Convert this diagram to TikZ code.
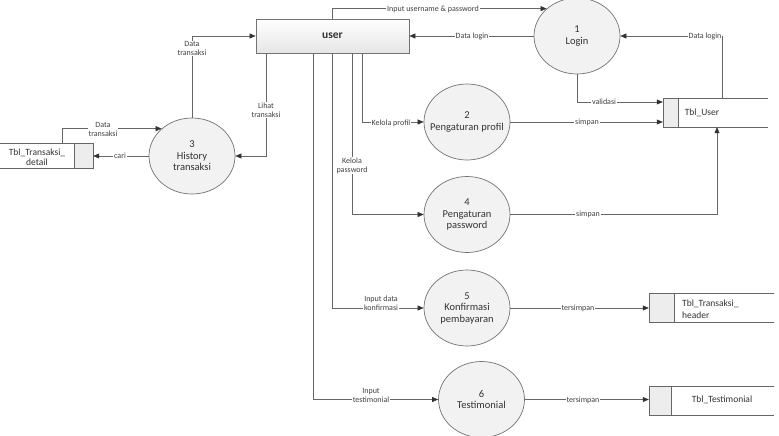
\documentclass[tikz,border=0pt]{standalone}
\usepackage{fontspec}
\setmainfont{Carlito}
\usetikzlibrary{arrows.meta,shapes.geometric,calc}
\begin{document}
\begin{tikzpicture}[x=1pt,y=-1pt,
  proc/.style={ellipse, draw=black!55, fill=black!5, line width=0.7pt, minimum width=86pt, minimum height=76pt, inner sep=0pt},
  ptext/.style={align=center, font=\fontsize{10.5}{11.5}\selectfont, text=black!80},
  flow/.style={draw=black!60, line width=0.6pt, -{Triangle[length=6pt,width=5pt,color=black!80]}},
  lbl/.style={fill=white, inner sep=0.8pt, font=\fontsize{8}{9}\selectfont, align=center, text=black!75},
  store/.style={inner sep=0pt, fill=white},
  sline/.style={draw=black!60, line width=0.6pt},
  stext/.style={font=\fontsize{9.5}{12}\selectfont, text=black!80, inner sep=0pt},
  compart/.style={fill=black!7},
]
\useasboundingbox (0,0) rectangle (779,436);

% external entity
\node[draw=black!55, line width=0.7pt, top color=white, bottom color=black!10, minimum width=153pt, minimum height=34pt, inner sep=0pt, font=\fontsize{11.5}{12}\selectfont\bfseries, text=black!80] (user) at (332.5,36) {user};

% processes
\node[proc, label={[ptext]center:1\\Login}] (p1) at (577,36) {};
\node[proc, label={[ptext]center:2\\Pengaturan profil}] (p2) at (467,122) {};
\node[proc, label={[ptext]center:3\\History\\transaksi}] (p3) at (192,156) {};
\node[proc, label={[ptext]center:4\\Pengaturan\\password}] (p4) at (467,214.5) {};
\node[proc, label={[ptext]center:5\\Konfirmasi\\pembayaran}] (p5) at (467,308) {};
\node[proc, label={[ptext]center:6\\Testimonial}] (p6) at (481.5,399.5) {};

% data stores
\node[store, minimum width=105pt, minimum height=29pt] (tu) at (715.5,112.5) {};
\fill[compart] (tu.north west) rectangle ($(tu.south west)+(15,0)$);
\draw[sline] (tu.north east) -- (tu.north west) -- (tu.south west) -- (tu.south east);
\draw[sline] ($(tu.north west)+(15,0)$) -- ($(tu.south west)+(15,0)$);
\node[stext] (tut) at (702,112.5) {Tbl\_User};

\node[store, minimum width=125pt, minimum height=29pt] (th) at (711.5,307.5) {};
\fill[compart] (th.north west) rectangle ($(th.south west)+(25,0)$);
\draw[sline] (th.north east) -- (th.north west) -- (th.south west) -- (th.south east);
\draw[sline] ($(th.north west)+(25,0)$) -- ($(th.south west)+(25,0)$);
\node[stext, anchor=west, align=left] (tht) at (682,309.5) {Tbl\_Transaksi\_\\header};

\node[store, minimum width=125pt, minimum height=29pt] (tt) at (711.5,400.5) {};
\fill[compart] (tt.north west) rectangle ($(tt.south west)+(22,0)$);
\draw[sline] (tt.north east) -- (tt.north west) -- (tt.south west) -- (tt.south east);
\draw[sline] ($(tt.north west)+(22,0)$) -- ($(tt.south west)+(22,0)$);
\node[stext] (ttt) at (722,400) {Tbl\_Testimonial};

\node[store, minimum width=93pt, minimum height=25pt] (td) at (46.5,155.5) {};
\fill[compart] ($(td.north east)+(-19,0)$) rectangle (td.south east);
\draw[sline] (td.north west) -- (td.north east) -- (td.south east) -- (td.south west);
\draw[sline] ($(td.north east)+(-19,0)$) -- ($(td.south east)+(-19,0)$);
\node[stext, align=center, font=\fontsize{9.5}{10}\selectfont] (tdt) at (37,157.5) {Tbl\_Transaksi\_\\detail};

% flows
\draw[flow] (user.north) |- (p1.138);
\draw[flow] (p1.west) -- (user.east);
\draw[flow] ($(tu.north)+(6.5,0)$) |- (p1.east);
\draw[flow] (p1.south) |- ($(tu.west)+(0,-10.5)$);
\draw[flow] (p2.east) -- (p2.east -| tu.west);
\draw[flow] (p4.east) -| ($(tu.south)+(1.5,0)$);
\draw[flow] ($(user.south)+(29.5,0)$) |- (p2.west);
\draw[flow] ($(user.south)+(19.5,0)$) |- (p4.west);
\draw[flow] (user.south) |- (p5.west);
\draw[flow] ($(user.south)+(-19.5,0)$) |- (p6.west);
\draw[flow] (p5.east) -- (p5.east -| th.west);
\draw[flow] (p6.east) -- (p6.east -| tt.west);
\draw[flow] (p3.north) |- (user.west);
\draw[flow] ($(user.south)+(-66.5,0)$) |- (p3.east);
\draw[flow] (p3.west) -- (p3.west -| td.east);
\draw[flow] ($(td.north)+(15.5,0)$) |- (p3.138);

% labels
\node[lbl] (l1) at (433,9) {Input username \& password};
\node[lbl] (l2) at (472,36) {Data login};
\node[lbl] (l3) at (705,36) {Data login};
\node[lbl] (l4) at (604,102) {validasi};
\node[lbl] (l5) at (587,122) {simpan};
\node[lbl] (l6) at (588,214.5) {simpan};
\node[lbl] (l7) at (391,123.5) {Kelola profil};
\node[lbl] (l8) at (352,165.5) {Kelola\\password};
\node[lbl] (l9) at (381,303) {Input data\\konfirmasi};
\node[lbl] (l10) at (371,395) {Input\\testimonial};
\node[lbl] (l11) at (578,308) {tersimpan};
\node[lbl] (l12) at (583,400) {tersimpan};
\node[lbl] (l13) at (192,48.5) {Data\\transaksi};
\node[lbl] (l14) at (266,110) {Lihat\\transaksi};
\node[lbl] (l15) at (103,129.5) {Data\\transaksi};
\node[lbl] (l16) at (120,156) {cari};
\end{tikzpicture}
\end{document}
